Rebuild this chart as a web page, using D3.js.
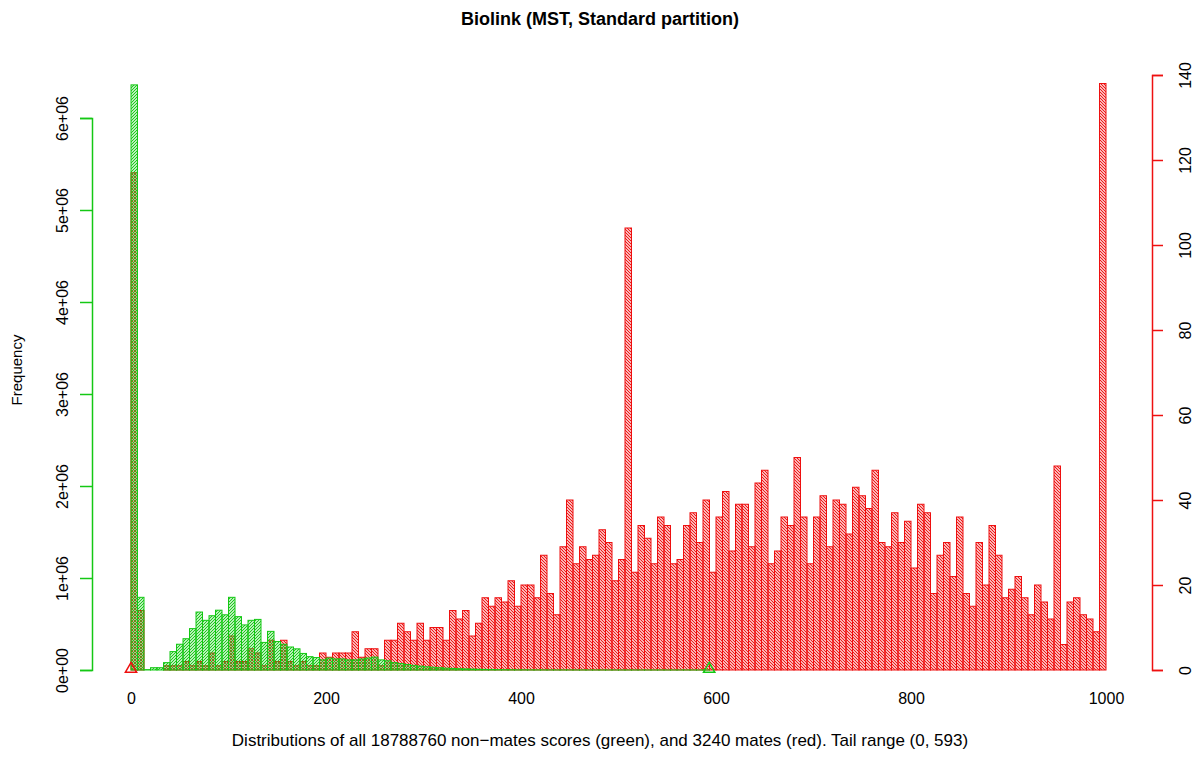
<!DOCTYPE html>
<html><head><meta charset="utf-8">
<script src="https://cdn.jsdelivr.net/npm/d3@7"></script>
<style>
body{margin:0;background:#fff}
svg{display:block}
text{font-family:"Liberation Sans",Arial,Helvetica,sans-serif}
</style>
</head><body><svg id="c" width="1200" height="784"></svg>
<script>
// ---------- data ----------
const title = "Biolink (MST, Standard partition)";
const caption = "Distributions of all 18788760 non\u2212mates scores (green), and 3240 mates (red). Tail range (0, 593)";
const yLabel = "Frequency";
const scoreRange = [0, 1000];
const binCount = 150;
const tailRange = [0, 593];

// mates (red), counts per bin
const mates = [
 117,14,0,0,0,1,1,1,2,1, 2,1,4,1,2,8,2,2,5,4,
 1,7,2,7,2,1,2,1,1,4, 3,4,4,4,9,3,5,5,1,7,
 7,11,9,7,11,7,10,10,7,14, 12,14,8,11,17,15,17,16,21,15,
 20,20,17,27,18,13,29,40,25,29, 26,27,33,30,21,26,104,23,34,31,
 25,36,34,25,26,34,37,30,40,23, 36,42,28,39,39,29,44,47,25,28,
 36,34,50,36,25,36,41,29,40,39, 32,43,41,38,47,30,29,37,30,35,
 24,39,37,18,27,30,22,36,18,15, 30,20,34,27,17,19,22,17,13,20,
 16,12,48,6,16,17,13,12,9,138
];

// non-mates (green), counts per bin
const nonMates = [
 6360000,790000,4000,25000,25000,80000,200000,280000,340000,450000,
 630000,540000,590000,650000,600000,790000,580000,490000,540000,550000,
 300000,420000,310000,280000,250000,230000,180000,145000,135000,110000,
 130000,120000,120000,110000,110000,120000,130000,140000,110000,100000,
 80000,70000,60000,50000,42000,35000,30000,25000,20000,17000,
 14000,12000,10000,8000,6000,5000,4000,3000,2500,2000,
 1500,1200,1000,900,800,700,600,500,500,400,
 400,300,300,300,200,200,200,200,100,100,
 100,100,100,100,100,100,100,100,100,0,
 0,0,0,0,0,0,0,0,0,0, 0,0,0,0,0,0,0,0,0,0,
 0,0,0,0,0,0,0,0,0,0, 0,0,0,0,0,0,0,0,0,0,
 0,0,0,0,0,0,0,0,0,0, 0,0,0,0,0,0,0,0,0,0
];

const xTicks = [0, 200, 400, 600, 800, 1000];
const leftTicks = [0, 1e6, 2e6, 3e6, 4e6, 5e6, 6e6];
const leftTickLabels = ["0e+00","1e+06","2e+06","3e+06","4e+06","5e+06","6e+06"];
const rightTicks = [0, 20, 40, 60, 80, 100, 120, 140];

// ---------- drawing ----------
const RED = "#ee1010", GREEN = "#14c814";
const svg = d3.select("#c");
svg.append("rect").attr("width",1200).attr("height",784).attr("fill","#fff");

const x = d3.scaleLinear().domain(scoreRange).range([131, 1106]);
const yG = d3.scaleLinear().domain([0, 6e6]).range([670, 118]);
const yR = d3.scaleLinear().domain([0, 140]).range([670, 75]);
const step = (scoreRange[1]-scoreRange[0]) / binCount;
const bins = d3.range(binCount).map(i => ({x0: scoreRange[0] + i*step, x1: scoreRange[0] + (i+1)*step, m: mates[i], n: nonMates[i]}));

const defs = svg.append("defs");
function hatch(id, color, up) {
  const p = defs.append("pattern").attr("id", id)
    .attr("patternUnits","userSpaceOnUse").attr("width",3).attr("height",3);
  p.append("path")
    .attr("d", up ? "M-1,1 L1,-1 M0,3 L3,0 M2,4 L4,2" : "M-1,2 L1,4 M0,0 L3,3 M2,-1 L4,1")
    .attr("stroke", color).attr("stroke-width", 1.15).attr("fill","none");
}
hatch("hG", GREEN, true);
hatch("hR", RED, false);

// x axis labels only (no visible line/ticks in the reference)
const xAxis = svg.append("g").attr("transform","translate(0,670)")
  .call(d3.axisBottom(x).tickValues(xTicks).tickSize(0).tickPadding(23).tickFormat(d3.format("d")));
xAxis.select(".domain").remove();
xAxis.selectAll(".tick line").remove();
xAxis.selectAll("text").attr("font-size",16).attr("fill","#000");

// red bars (mates)
svg.append("g").selectAll("rect").data(bins).join("rect")
  .attr("x", d => x(d.x0)).attr("width", d => x(d.x1) - x(d.x0))
  .attr("y", d => yR(d.m)).attr("height", d => yR(0) - yR(d.m))
  .attr("fill","url(#hR)").attr("stroke", RED).attr("stroke-width",1);

// green bars (non-mates)
svg.append("g").selectAll("rect").data(bins).join("rect")
  .attr("x", d => x(d.x0)).attr("width", d => x(d.x1) - x(d.x0))
  .attr("y", d => yG(d.n)).attr("height", d => yG(0) - yG(d.n))
  .attr("fill","url(#hG)").attr("stroke", GREEN).attr("stroke-width",1);

// tail range markers
const tri = d3.symbol().type(d3.symbolTriangle).size(55);
svg.append("path").attr("d", tri).attr("transform", `translate(${x(tailRange[0])},${yR(0)-1})`)
  .attr("fill","none").attr("stroke", RED).attr("stroke-width",1.5);
svg.append("path").attr("d", tri).attr("transform", `translate(${x(tailRange[1])},${yG(0)-1})`)
  .attr("fill","none").attr("stroke", GREEN).attr("stroke-width",1.5);

// left axis (green)
const lAxis = svg.append("g").attr("transform","translate(92,0)")
  .call(d3.axisLeft(yG).tickValues(leftTicks).tickSize(12).tickFormat((d,i) => leftTickLabels[i]));
lAxis.select(".domain").attr("stroke", GREEN).attr("stroke-width",1.5);
lAxis.selectAll(".tick line").attr("stroke", GREEN).attr("stroke-width",1.5);
lAxis.selectAll("text").attr("x",0).attr("dy",null)
  .attr("transform","translate(-30,0) rotate(-90)")
  .attr("text-anchor","middle").attr("dominant-baseline","central")
  .attr("font-size",16).attr("fill","#000");

// right axis (red)
const rAxis = svg.append("g").attr("transform","translate(1152,0)")
  .call(d3.axisRight(yR).tickValues(rightTicks).tickSize(11).tickFormat(d3.format("d")));
rAxis.select(".domain").attr("stroke", RED).attr("stroke-width",1.5);
rAxis.selectAll(".tick line").attr("stroke", RED).attr("stroke-width",1.5);
rAxis.selectAll("text").attr("x",0).attr("dy",null)
  .attr("transform","translate(33,0) rotate(-90)")
  .attr("text-anchor","middle").attr("dominant-baseline","central")
  .attr("font-size",16).attr("fill","#000");

// titles
svg.append("text").attr("x",600).attr("y",25).attr("text-anchor","middle")
  .attr("font-size",18).attr("font-weight","bold").text(title);
svg.append("text").attr("x",600).attr("y",746).attr("text-anchor","middle")
  .attr("font-size",17).text(caption);
svg.append("text").attr("transform","translate(22,370) rotate(-90)").attr("text-anchor","middle")
  .attr("font-size",15).text(yLabel);
</script>
</body></html>
